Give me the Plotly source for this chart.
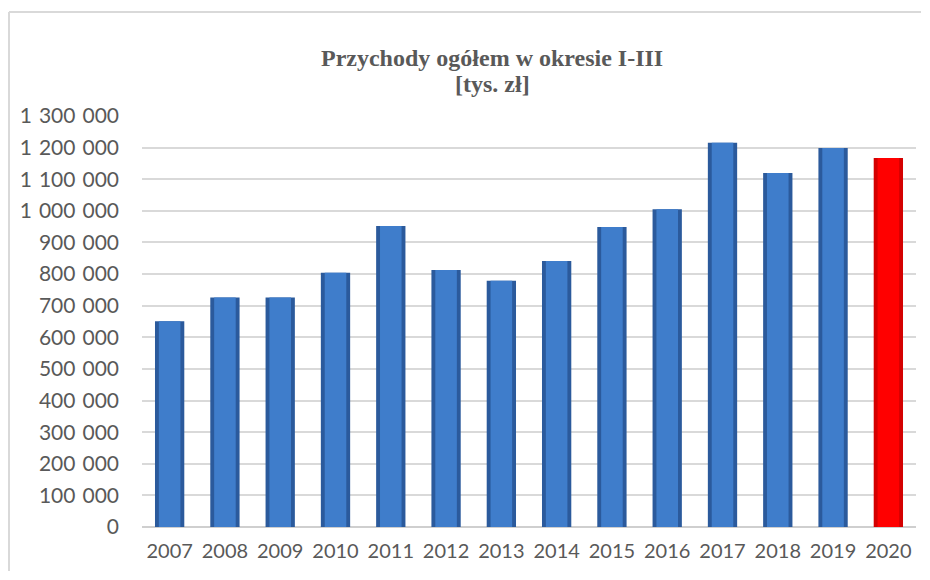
import plotly.graph_objects as go

years = ["2007", "2008", "2009", "2010", "2011", "2012", "2013",
         "2014", "2015", "2016", "2017", "2018", "2019", "2020"]
values = [651000, 726000, 726000, 804000, 952000, 813000, 779000,
          841000, 949000, 1005000, 1215000, 1120000, 1199000, 1167000]
tick_vals = list(range(0, 1300001, 100000))
tick_text = [f"{v:,}".replace(",", "\u2004") for v in tick_vals]

edge_colors = ["#2b5a9c"] * 13 + ["#d40000"]
core_colors = ["#3f7dcb"] * 13 + ["#ff0000"]

fig = go.Figure()
fig.add_trace(go.Bar(x=years, y=values, width=0.53,
                     marker=dict(color=edge_colors, line=dict(width=0)),
                     hoverinfo="skip", showlegend=False))
fig.add_trace(go.Bar(x=years, y=values, width=0.39,
                     marker=dict(color=core_colors, line=dict(width=0)),
                     showlegend=False))

# page has an 8px body margin; figure coordinates = page coordinates - 8
W, H = 914, 564
L, R, T, B = 134, 6, 108, 45
PW, PH = W - L - R, H - T - B


def px(x):
    return (x - L) / PW


def py(y):
    return 1 - (y - T) / PH


border = dict(color="#d9d9d9", width=2)

fig.update_layout(
    width=W, height=H,
    margin=dict(l=L, r=R, t=T, b=B),
    paper_bgcolor="white", plot_bgcolor="white",
    barmode="overlay",
    font=dict(family="Lato", size=20, color="#595959"),
    xaxis=dict(showgrid=False, ticks="", showline=False,
               tickfont=dict(family="Lato", size=20, color="#595959"),
               ticklabelstandoff=10),
    yaxis=dict(range=[0, 1300000], tickvals=tick_vals, ticktext=tick_text,
               showgrid=True, gridcolor="#d9d9d9", gridwidth=2,
               zeroline=True, zerolinecolor="#cfcfcf", zerolinewidth=2,
               ticks="", showline=False,
               tickfont=dict(family="Lato", size=21, color="#595959"),
               ticklabelstandoff=22),
    shapes=[
        dict(type="line", xref="paper", yref="paper",
             x0=px(1), x1=px(W - 1), y0=py(4), y1=py(4), line=border,
             layer="below"),
        dict(type="line", xref="paper", yref="paper",
             x0=px(1), x1=px(1), y0=py(4), y1=py(H - 1), line=border,
             layer="below"),
    ],
    annotations=[
        dict(text="<b>Przychody ogółem w okresie I-III</b>",
             xref="paper", yref="paper", x=px(484), y=py(50),
             xanchor="center", yanchor="middle", showarrow=False,
             font=dict(family="Liberation Serif", size=24, color="#595959")),
        dict(text="<b>[tys. zł]</b>",
             xref="paper", yref="paper", x=px(484), y=py(76),
             xanchor="center", yanchor="middle", showarrow=False,
             font=dict(family="Liberation Serif", size=24, color="#595959")),
        dict(text="wania.", xref="paper", yref="paper",
             x=px(-8), y=py(4),
             xanchor="left", yanchor="bottom", showarrow=False,
             font=dict(family="Liberation Serif", size=24, color="#000000")),
    ],
)

fig.write_html("out.html")
